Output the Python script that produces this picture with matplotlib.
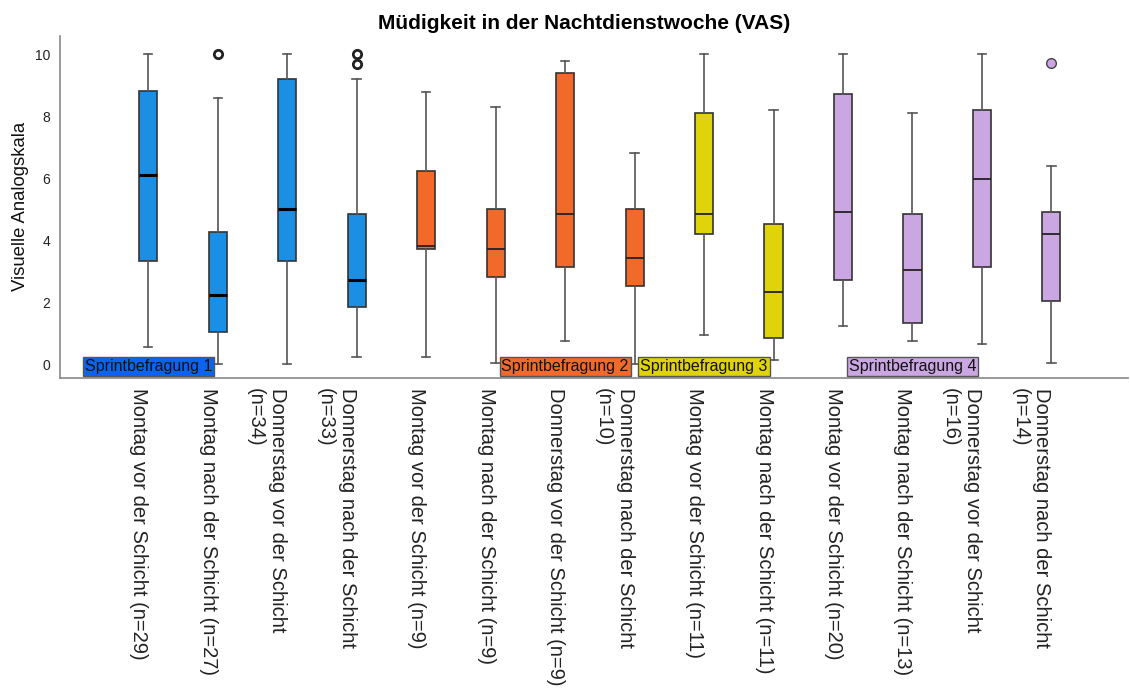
import numpy as np
import matplotlib
matplotlib.use("Agg")
import matplotlib.pyplot as plt

plt.rcParams['font.family'] = ['Liberation Sans', 'DejaVu Sans']

# Kategorien (Zeitpunkte) und Gruppen
labels = [
    "Montag vor der Schicht (n=29)",
    "Montag nach der Schicht (n=27)",
    "Donnerstag vor der Schicht\n(n=34)",
    "Donnerstag nach der Schicht\n(n=33)",
    "Montag vor der Schicht (n=9)",
    "Montag nach der Schicht (n=9)",
    "Donnerstag vor der Schicht (n=9)",
    "Donnerstag nach der Schicht\n(n=10)",
    "Montag vor der Schicht (n=11)",
    "Montag nach der Schicht (n=11)",
    "Montag vor der Schicht (n=20)",
    "Montag nach der Schicht (n=13)",
    "Donnerstag vor der Schicht\n(n=16)",
    "Donnerstag nach der Schicht\n(n=14)",
]
group = [0, 0, 0, 0, 1, 1, 1, 1, 2, 2, 3, 3, 3, 3]

# Boxplot-Kennwerte (VAS 0-10)
whislo = [0.55, 0.0, 0.0, 0.23, 0.23, 0.04, 0.74, 0.0, 0.94, 0.13, 1.23, 0.74, 0.64, 0.04]
q1 = [3.33, 1.04, 3.33, 1.84, 3.72, 2.8, 3.12, 2.51, 4.19, 0.84, 2.73, 1.32, 3.12, 2.04]
med = [6.11, 2.23, 5.02, 2.73, 3.8, 3.7, 4.83, 3.42, 4.83, 2.34, 4.91, 3.03, 5.98, 4.19]
q3 = [8.81, 4.26, 9.19, 4.83, 6.22, 5.01, 9.4, 5.01, 8.12, 4.53, 8.71, 4.83, 8.2, 4.91]
whishi = [10, 8.6, 10, 9.2, 8.8, 8.3, 9.8, 6.8, 10, 8.2, 10, 8.12, 10, 6.41]
fliers = [[], [10], [], [10, 9.7], [], [], [], [], [], [], [], [], [], [9.71]]

group_names = ["Sprintbefragung 1", "Sprintbefragung 2", "Sprintbefragung 3", "Sprintbefragung 4"]
group_label_pos = [0, 6, 8, 11]

box_colors = ["#1a8fe3", "#f26a2a", "#e0d30a", "#caa6e2"]
tag_colors = ["#0a64f0", "#f26a2a", "#e0d30a", "#caa6e2"]

stats = []
for i in range(len(labels)):
    stats.append(dict(whislo=whislo[i], q1=q1[i], med=med[i], q3=q3[i],
                      whishi=whishi[i], fliers=fliers[i], label=labels[i]))

fig = plt.figure(figsize=(11.3, 6.88), dpi=100)
ax = fig.add_axes([0.0531, 0.4506, 0.945, 0.4974])

pos = np.arange(len(labels))
res = ax.bxp(stats, positions=pos, widths=0.26, capwidths=0.12,
             patch_artist=True, showfliers=True,
             boxprops=dict(edgecolor="#333333", linewidth=1.2),
             whiskerprops=dict(color="#555555", linewidth=1.2),
             capprops=dict(color="#555555", linewidth=1.2),
             medianprops=dict(color="#222222", linewidth=1.3))

for i, g in enumerate(group):
    res['boxes'][i].set_facecolor(box_colors[g])
    if g == 0:
        res['medians'][i].set_color("black")
        res['medians'][i].set_linewidth(2.2)
        res['fliers'][i].set(marker='o', markersize=6, markerfacecolor='white',
                             markeredgecolor='#222222', markeredgewidth=2)
    else:
        res['fliers'][i].set(marker='o', markersize=7, markerfacecolor=box_colors[g],
                             markeredgecolor='#444444', markeredgewidth=1)

# Gruppenbeschriftungen am unteren Rand
for name, x, c in zip(group_names, group_label_pos, tag_colors):
    ax.text(x, -0.07, name, ha='center', va='center', fontsize=11.5, color='#111111',
            bbox=dict(boxstyle='square,pad=0.12', facecolor=c, edgecolor='#555555', linewidth=1))

ax.set_xlim(-1.27, 14.1)
ax.set_ylim(-0.45, 10.6)
ax.set_yticks([0, 2, 4, 6, 8, 10])
ax.set_xticks(pos)
ax.set_xticklabels(labels, rotation=270, ha='right', va='top', multialignment='left',
                   fontsize=14.5, color='#222222')
ax.tick_params(axis='both', length=0)
ax.tick_params(axis='x', pad=7)
ax.tick_params(axis='y', pad=7, labelsize=10, labelcolor='#222222')

for s in ['top', 'right']:
    ax.spines[s].set_visible(False)
for s in ['left', 'bottom']:
    ax.spines[s].set_color('#888888')
    ax.spines[s].set_linewidth(1.2)

ax.set_ylabel("Visuelle Analogskala", fontsize=13.3, color='#111111', labelpad=4)
ax.set_title("Müdigkeit in der Nachtdienstwoche (VAS)", fontsize=15, fontweight='bold',
             pad=5, x=0.4906)

fig.savefig("out.png", dpi=100)
